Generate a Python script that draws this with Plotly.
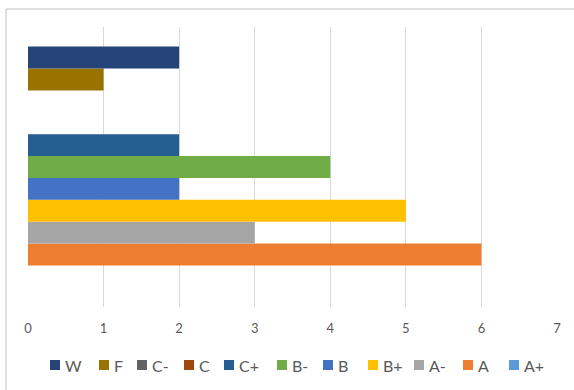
import plotly.graph_objects as go

grades = ["A+", "A", "A-", "B+", "B", "B-", "C+", "C", "C-", "F", "W"]
counts = [0, 6, 3, 5, 2, 4, 2, 0, 0, 1, 2]
colors = ["#5B9BD5", "#ED7D31", "#A5A5A5", "#FFC000", "#4472C4", "#70AD47",
          "#255E91", "#9E480E", "#636363", "#997300", "#264478"]
category = ["Grades"]

# layout geometry (pixels)
W, H = 574, 390
ML, MR, MT, MB = 28, 17, 27, 83
PW, PH = W - ML - MR, H - MT - MB
# legend entry positions (left edge of swatch, px) in legend order W ... A+
legend_px = [50, 99, 137, 184, 224, 277, 323, 368, 414, 463, 509]
legend_cy = 365
sw = 10

def px2x(px):
    return (px - ML) / PW

def py2y(py):
    return (H - MB - py) / PH

fig = go.Figure()
for g, c, col in zip(grades, counts, colors):
    fig.add_trace(go.Bar(y=category, x=[c], name=g, orientation="h",
                         marker=dict(color=col, line=dict(width=0)),
                         showlegend=False))

shapes = [dict(type="rect", xref="paper", yref="paper",
               x0=px2x(6), x1=px2x(W + 20), y0=py2y(H + 20), y1=py2y(9),
               line=dict(color="#BFBFBF", width=1), fillcolor="rgba(0,0,0,0)",
               layer="below")]
annotations = []
for g, col, lx in zip(grades[::-1], colors[::-1], legend_px):
    shapes.append(dict(type="rect", xref="paper", yref="paper",
                       x0=px2x(lx), x1=px2x(lx + sw),
                       y0=py2y(legend_cy + sw / 2), y1=py2y(legend_cy - sw / 2),
                       line=dict(width=0), fillcolor=col))
    annotations.append(dict(xref="paper", yref="paper", x=px2x(lx + sw + 3),
                            y=py2y(legend_cy), text=g, showarrow=False,
                            xanchor="left", yanchor="middle",
                            font=dict(size=16, color="#595959")))

fig.update_layout(
    width=W, height=H,
    margin=dict(l=ML, r=MR, t=MT, b=MB, autoexpand=False),
    paper_bgcolor="white", plot_bgcolor="white",
    barmode="group", bargap=0.14, bargroupgap=0,
    font=dict(family="Lato, Open Sans, sans-serif", color="#595959", size=12),
    xaxis=dict(range=[0, 7], dtick=1, showgrid=True, gridcolor="#D9D9D9",
               gridwidth=1, zeroline=False, showline=False, ticks="",
               ticklabelstandoff=12,
               tickfont=dict(size=13, color="#595959"), fixedrange=True),
    yaxis=dict(showticklabels=False, showgrid=False, zeroline=False,
               showline=False, ticks=""),
    showlegend=False,
    shapes=shapes,
    annotations=annotations,
)

fig.write_html("out.html")
